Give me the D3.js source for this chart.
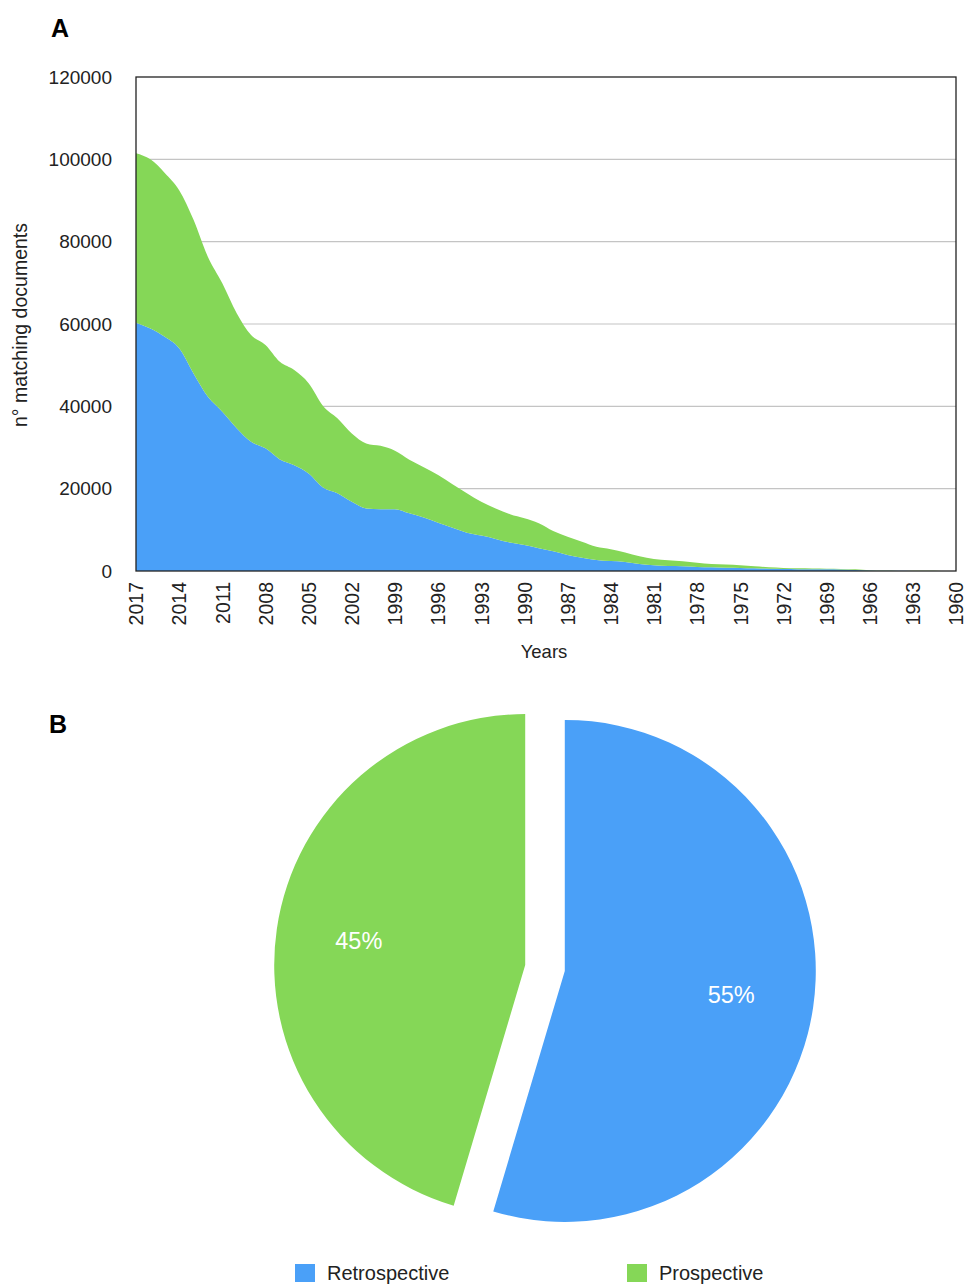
<!DOCTYPE html>
<html><head><meta charset="utf-8">
<script src="https://cdn.jsdelivr.net/npm/d3@7"></script>
<style>
body{margin:0;background:#fff;}
svg text{font-family:"Liberation Sans",Arial,Helvetica,sans-serif;}
</style></head>
<body>
<svg id="chart" width="966" height="1285"></svg>
<script>
const years = d3.range(2017, 1959, -1);
const retrospective = [60300,58900,56900,54100,48000,42300,38700,34700,31400,29800,27100,25700,23700,20300,18900,16800,15200,15000,15000,14000,13000,11700,10500,9300,8600,7800,6900,6300,5500,4800,3900,3200,2700,2400,2200,1700,1400,1200,1150,1000,900,800,750,650,550,500,450,420,400,350,250,100,50,40,30,20,15,10];
const prospective = [41200,41100,39800,38400,37300,34000,31200,27900,25900,25100,23700,23100,21900,19800,18200,16600,15800,15400,14200,13000,12200,11600,10600,9600,8200,7400,6900,6500,6100,4900,4400,3900,3200,2900,2300,1900,1500,1400,1200,1000,800,750,650,500,350,250,200,180,150,150,150,100,50,40,30,20,15,10];
const yTicks = [0,20000,40000,60000,80000,100000,120000];
const xTickYears = d3.range(2017, 1959, -3);
const pieLabels = ["Retrospective","Prospective"];
const pieValues = [54.6,45.4];
const colors = {Retrospective:"#4aa0f8", Prospective:"#85d757"};

const svg = d3.select("#chart");

// ---------- Panel A ----------
const x = d3.scalePoint().domain(years).range([136,956]);
const y = d3.scaleLinear().domain([0,120000]).range([571,77]);

svg.append("text").attr("x",51).attr("y",37).attr("font-size",25).attr("font-weight","bold").text("A");

svg.append("g").selectAll("line").data(yTicks.filter(d=>d>0 && d<120000)).join("line")
  .attr("x1",136).attr("x2",956).attr("y1",d=>y(d)).attr("y2",d=>y(d))
  .attr("stroke","#c4c4c4").attr("stroke-width",1.2);

const rows = years.map((yr,i)=>({year:yr, Retrospective:retrospective[i], Prospective:prospective[i]}));
const series = d3.stack().keys(["Retrospective","Prospective"])(rows);
const area = d3.area().x(d=>x(d.data.year)).y0(d=>y(d[0])).y1(d=>y(d[1])).curve(d3.curveMonotoneX);
svg.append("g").selectAll("path").data(series).join("path")
  .attr("d",area).attr("fill",d=>colors[d.key]);

svg.append("rect").attr("x",136).attr("y",77).attr("width",820).attr("height",494)
  .attr("fill","none").attr("stroke","#222").attr("stroke-width",1.3);

const yAxis = svg.append("g").attr("transform","translate(112,0)")
  .call(d3.axisLeft(y).tickValues(yTicks).tickSize(0).tickFormat(d3.format("d")));
yAxis.select(".domain").remove();
yAxis.selectAll("text").attr("font-size",19).attr("fill","#222").attr("x",0);

const xAxis = svg.append("g").attr("transform","translate(0,571)")
  .call(d3.axisBottom(x).tickValues(xTickYears).tickSize(0));
xAxis.select(".domain").remove();
xAxis.selectAll("text").attr("font-size",19.5).attr("fill","#222")
  .attr("transform","rotate(-90)").attr("text-anchor","end")
  .attr("x",-11).attr("y",0).attr("dy","0.35em");

svg.append("text").attr("x",544).attr("y",658).attr("text-anchor","middle").attr("font-size",18.5).attr("fill","#222").text("Years");
svg.append("text").attr("transform","translate(27,325) rotate(-90)").attr("text-anchor","middle").attr("font-size",19.5).attr("fill","#222").text("n° matching documents");

// ---------- Panel B ----------
svg.append("text").attr("x",49).attr("y",733).attr("font-size",25).attr("font-weight","bold").text("B");

const cx = 545, cy = 968, r = 251, explode = 20;
const pieData = d3.pie().sort(null).value(d=>d.v)(pieLabels.map((l,i)=>({l, v:pieValues[i]})));
const arc = d3.arc().innerRadius(0).outerRadius(r);
const labelArc = d3.arc().innerRadius(r*0.67).outerRadius(r*0.67);
const pg = svg.append("g").attr("transform",`translate(${cx},${cy})`);
const slices = pg.selectAll("g").data(pieData).join("g")
  .attr("transform",d=>{const a=(d.startAngle+d.endAngle)/2; return `translate(${Math.sin(a)*explode},${-Math.cos(a)*explode})`;});
slices.append("path").attr("d",arc).attr("fill",d=>colors[d.data.l]);
slices.append("text").attr("transform",d=>`translate(${labelArc.centroid(d)})`)
  .attr("text-anchor","middle").attr("dy","0.35em").attr("font-size",23.5).attr("fill","#fff")
  .text(d=>Math.round(d.data.v)+"%");

const legX = [295,627];
const lg = svg.append("g").selectAll("g").data(pieLabels).join("g")
  .attr("transform",(d,i)=>`translate(${legX[i]},1264)`);
lg.append("rect").attr("width",20).attr("height",18).attr("fill",d=>colors[d]);
lg.append("text").attr("x",32).attr("y",9).attr("dy","0.35em").attr("font-size",20).attr("fill","#222").text(d=>d);
</script>
</body></html>
